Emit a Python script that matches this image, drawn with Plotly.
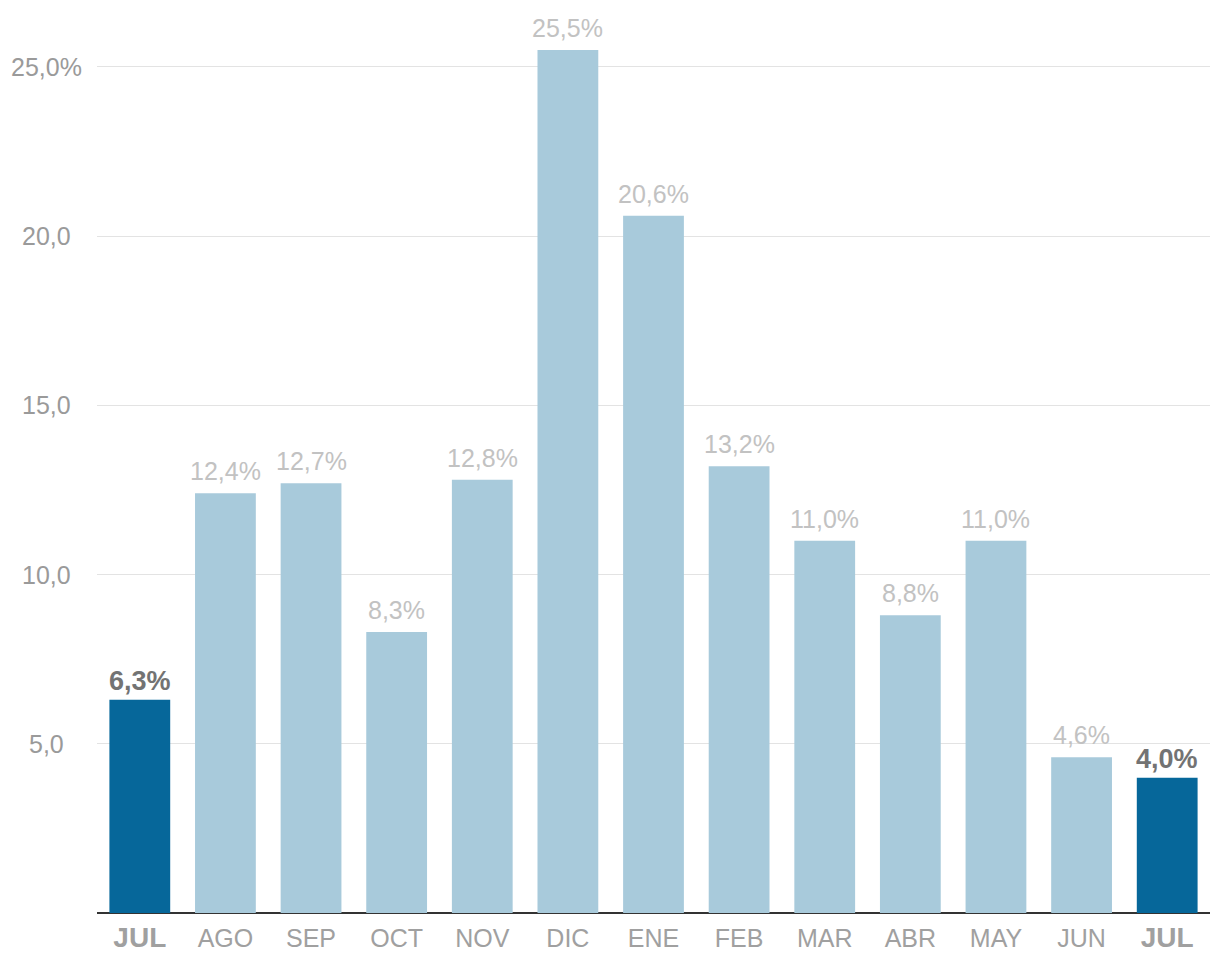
import plotly.graph_objects as go

months = ["JUL", "AGO", "SEP", "OCT", "NOV", "DIC", "ENE", "FEB", "MAR", "ABR", "MAY", "JUN", "JUL"]
values = [6.3, 12.4, 12.7, 8.3, 12.8, 25.5, 20.6, 13.2, 11.0, 8.8, 11.0, 4.6, 4.0]
highlight = [True] + [False] * 11 + [True]
y_ticks = [5, 10, 15, 20, 25]
y_tick_labels = ["5,0", "10,0", "15,0", "20,0", "25,0%"]

DARK = "#06679a"
LIGHT = "#a8cadb"
FONT = "Liberation Sans, Arial, sans-serif"

x = list(range(len(months)))
colors = [DARK if h else LIGHT for h in highlight]
tick_text = [
    f'<span style="font-size:28px"><b>{m}</b></span>' if h else m
    for m, h in zip(months, highlight)
]

fig = go.Figure()
fig.add_trace(go.Bar(
    x=x, y=values, marker=dict(color=colors, line=dict(width=0)),
    hoverinfo="skip",
))

# value labels above the bars
for xi, v, h in zip(x, values, highlight):
    label = f"{v:.1f}%".replace(".", ",")
    fig.add_annotation(
        x=xi, y=v, xref="x", yref="y", showarrow=False,
        text=f"<b>{label}</b>" if h else label,
        xanchor="center", yanchor="bottom", yshift=2 if h else 6,
        font=dict(family=FONT, size=27 if h else 25, color="#737373" if h else "#c2c2c2"),
    )

# y tick labels, centred like the original
for v, t in zip(y_ticks, y_tick_labels):
    fig.add_annotation(
        x=-0.045, xref="paper", y=v, yref="y", text=t, showarrow=False,
        xanchor="center", yanchor="middle",
        font=dict(family=FONT, size=25, color="#9a9a9a"),
    )

fig.update_layout(
    width=1220, height=980,
    margin=dict(l=89, r=18, t=42, b=75),
    plot_bgcolor="white", paper_bgcolor="white",
    bargap=0.29, showlegend=False,
)
fig.update_xaxes(
    tickvals=x, ticktext=tick_text, range=[-0.5, len(months) - 0.5],
    showgrid=False, ticks="", ticklabelstandoff=8,
    tickfont=dict(family=FONT, size=25, color="#a0a0a0"),
)
fig.update_yaxes(
    range=[0, 25.5], tickvals=y_ticks, showticklabels=False,
    showgrid=True, gridcolor="#e3e3e3", gridwidth=1,
    zeroline=True, zerolinecolor="#333333", zerolinewidth=2,
)

fig.write_html("out.html")
